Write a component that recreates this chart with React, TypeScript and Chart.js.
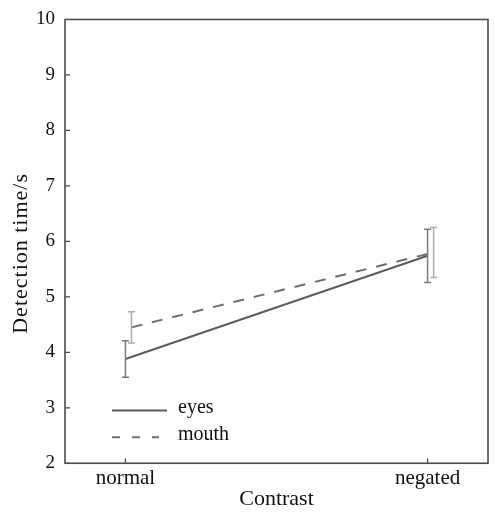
import React, { useEffect, useRef } from "react";
import { Chart, registerables } from "chart.js";

Chart.register(...registerables);

const categories = ["normal", "negated"];
const seriesNames = ["eyes", "mouth"];
const eyesMean = [3.88, 5.74];
const eyesErr = [0.33, 0.48];
const mouthMean = [4.45, 5.8];
const mouthErr = [0.28, 0.45];
const yTicks = [2, 3, 4, 5, 6, 7, 8, 9, 10];
const xTitle = "Contrast";
const yTitle = "Detection time/s";

const FONT = "'Liberation Serif', 'Times New Roman', serif";
const AXIS = "#4d4d4d";

export default function App() {
  const ref = useRef<HTMLCanvasElement | null>(null);

  useEffect(() => {
    document.body.style.margin = "0";
    const canvas = ref.current;
    if (!canvas) return;

    const errs = [eyesErr, mouthErr];
    const errColors = ["#7a7a7a", "#ababab"];

    const framePlugin = {
      id: "frameAndExtras",
      afterDatasetsDraw(chart: any) {
        const { ctx, chartArea, scales } = chart;
        const xs = scales.x;
        const ys = scales.y;
        ctx.save();
        // error bars
        chart.data.datasets.forEach((ds: any, di: number) => {
          const meta = chart.getDatasetMeta(di);
          ctx.strokeStyle = errColors[di];
          ctx.lineWidth = 1.5;
          ctx.setLineDash([]);
          ds.data.forEach((pt: any, i: number) => {
            const x = meta.data[i].x;
            const yTop = ys.getPixelForValue(pt.y + errs[di][i]);
            const yBot = ys.getPixelForValue(pt.y - errs[di][i]);
            ctx.beginPath();
            ctx.moveTo(x, yTop);
            ctx.lineTo(x, yBot);
            ctx.moveTo(x - 3.5, yTop);
            ctx.lineTo(x + 3.5, yTop);
            ctx.moveTo(x - 3.5, yBot);
            ctx.lineTo(x + 3.5, yBot);
            ctx.stroke();
          });
        });
        // frame
        ctx.strokeStyle = AXIS;
        ctx.lineWidth = 1.6;
        ctx.strokeRect(chartArea.left, chartArea.top, chartArea.right - chartArea.left, chartArea.bottom - chartArea.top);
        // inward ticks
        ctx.lineWidth = 1.2;
        ctx.beginPath();
        yTicks.forEach((v) => {
          const y = ys.getPixelForValue(v);
          ctx.moveTo(chartArea.left, y);
          ctx.lineTo(chartArea.left + 5, y);
        });
        categories.forEach((_, i) => {
          const x = xs.getPixelForValue(i);
          ctx.moveTo(x, chartArea.bottom);
          ctx.lineTo(x, chartArea.bottom - 5);
        });
        ctx.stroke();
        // legend
        const lx0 = chartArea.left + 47;
        const lx1 = chartArea.left + 102;
        const ly0 = ys.getPixelForValue(2.95);
        const ly1 = ys.getPixelForValue(2.47);
        ctx.lineWidth = 2;
        ctx.strokeStyle = chart.data.datasets[0].borderColor;
        ctx.setLineDash([]);
        ctx.beginPath();
        ctx.moveTo(lx0, ly0);
        ctx.lineTo(lx1, ly0);
        ctx.stroke();
        ctx.strokeStyle = chart.data.datasets[1].borderColor;
        ctx.setLineDash([8, 12]);
        ctx.beginPath();
        ctx.moveTo(lx0, ly1);
        ctx.lineTo(lx1 - 8, ly1);
        ctx.stroke();
        ctx.setLineDash([]);
        ctx.fillStyle = "#111";
        ctx.font = `20px ${FONT}`;
        ctx.textAlign = "left";
        ctx.textBaseline = "middle";
        ctx.fillText(seriesNames[0], lx1 + 11, ly0 - 3);
        ctx.fillText(seriesNames[1], lx1 + 11, ly1 - 2);
        // y title
        ctx.translate(21, (chartArea.top + chartArea.bottom) / 2 + 12);
        ctx.rotate(-Math.PI / 2);
        ctx.font = `22px ${FONT}`;
        (ctx as any).letterSpacing = "1px";
        ctx.textAlign = "center";
        ctx.textBaseline = "middle";
        ctx.fillText(yTitle, 0, 0);
        ctx.restore();
      },
    };

    const chart = new Chart(canvas, {
      type: "line",
      data: {
        datasets: [
          {
            label: seriesNames[0],
            data: categories.map((_, i) => ({ x: i, y: eyesMean[i] })),
            borderColor: "#5c5c5c",
            borderWidth: 2,
            pointRadius: 0,
            fill: false,
          },
          {
            label: seriesNames[1],
            data: categories.map((_, i) => ({ x: i + 0.02, y: mouthMean[i] })),
            borderColor: "#6e6e6e",
            borderWidth: 2,
            borderDash: [11, 10],
            pointRadius: 0,
            fill: false,
          },
        ],
      },
      options: {
        animation: false,
        responsive: false,
        maintainAspectRatio: false,
        layout: { padding: { top: 6, right: 7, left: 26, bottom: 0 } },
        plugins: { legend: { display: false }, tooltip: { enabled: false } },
        scales: {
          x: {
            type: "linear",
            min: -0.2,
            max: 1.2,
            afterBuildTicks: (axis: any) => {
              axis.ticks = categories.map((_, i) => ({ value: i }));
            },
            ticks: {
              color: "#111",
              font: { family: FONT, size: 21, lineHeight: 0.95 },
              padding: 5,
              maxRotation: 0,
              autoSkip: false,
              callback: (v: any) => categories[v] ?? "",
            },
            grid: { display: false, drawTicks: false },
            border: { display: false },
            title: { display: true, text: xTitle, color: "#111", font: { family: FONT, size: 22, lineHeight: 0.9 }, padding: { top: -4, bottom: 4 } },
          },
          y: {
            min: 2,
            max: 10,
            afterBuildTicks: (axis: any) => {
              axis.ticks = yTicks.map((v) => ({ value: v }));
            },
            ticks: {
              color: "#111",
              font: { family: FONT, size: 19, lineHeight: 1.0 },
              padding: 10,
            },
            grid: { display: false, drawTicks: false },
            border: { display: false },
          },
        },
      },
      plugins: [framePlugin],
    });
    return () => chart.destroy();
  }, []);

  return <canvas ref={ref} width={495} height={513} style={{ display: "block" }} />;
}
